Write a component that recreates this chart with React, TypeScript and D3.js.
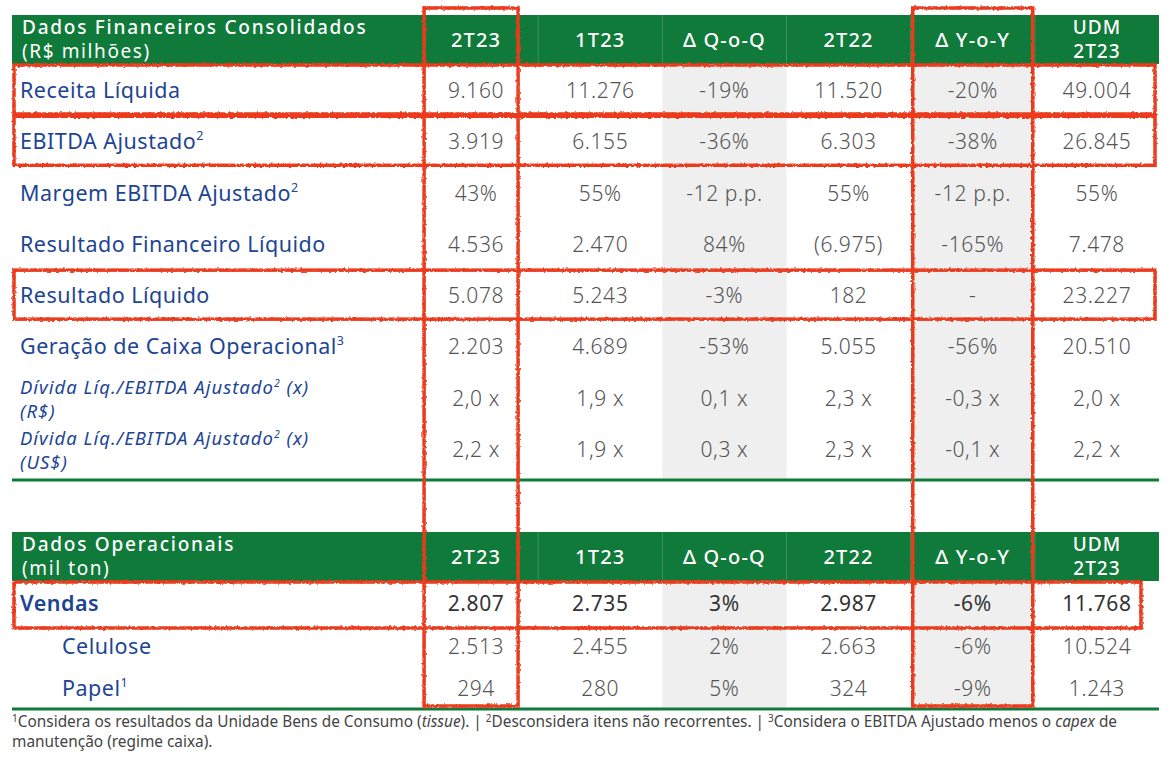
import React from "react";
import * as d3 from "d3";

const columns = ["2T23", "1T23", "Δ Q-o-Q", "2T22", "Δ Y-o-Y", "UDM 2T23"];
const deltaColumns = ["Δ Q-o-Q", "Δ Y-o-Y"];

const finTitle = ["Dados Financeiros Consolidados", "(R$ milhões)"];
const finLabels = [
  "Receita Líquida",
  "EBITDA Ajustado",
  "Margem EBITDA Ajustado",
  "Resultado Financeiro Líquido",
  "Resultado Líquido",
  "Geração de Caixa Operacional",
  "Dívida Líq./EBITDA Ajustado (R$)",
  "Dívida Líq./EBITDA Ajustado (US$)",
];
const finSup = ["", "2", "2", "", "", "3", "2", "2"];
const fin2T23 = ["9.160", "3.919", "43%", "4.536", "5.078", "2.203", "2,0 x", "2,2 x"];
const fin1T23 = ["11.276", "6.155", "55%", "2.470", "5.243", "4.689", "1,9 x", "1,9 x"];
const finQoQ = ["-19%", "-36%", "-12 p.p.", "84%", "-3%", "-53%", "0,1 x", "0,3 x"];
const fin2T22 = ["11.520", "6.303", "55%", "(6.975)", "182", "5.055", "2,3 x", "2,3 x"];
const finYoY = ["-20%", "-38%", "-12 p.p.", "-165%", "-", "-56%", "-0,3 x", "-0,1 x"];
const finUDM = ["49.004", "26.845", "55%", "7.478", "23.227", "20.510", "2,0 x", "2,2 x"];

const opTitle = ["Dados Operacionais", "(mil ton)"];
const opLabels = ["Vendas", "Celulose", "Papel"];
const opSup = ["", "", "1"];
const op2T23 = ["2.807", "2.513", "294"];
const op1T23 = ["2.735", "2.455", "280"];
const opQoQ = ["3%", "2%", "5%"];
const op2T22 = ["2.987", "2.663", "324"];
const opYoY = ["-6%", "-6%", "-9%"];
const opUDM = ["11.768", "10.524", "1.243"];

const highlightedFin = ["Receita Líquida", "EBITDA Ajustado", "Resultado Líquido"];
const highlightedOp = ["Vendas"];
const highlightedCols = ["2T23", "Δ Y-o-Y"];

const GREEN = "#0f7a3a";
const BLUE = "#1d4593";
const GREY_TXT = "#555";
const RED = "#ec3a1c";
const FONT = "'Noto Sans', 'Open Sans', sans-serif";

export default function App() {
  const W = 1174;
  const H = 768;
  const left = 12;
  const right = 1159;

  const x = d3.scaleBand<string>().domain(columns).range([414, right]).padding(0);
  const cx = (c: string) => (x(c) as number) + x.bandwidth() / 2;

  const yFin = d3.scalePoint<string>().domain(finLabels).range([91, 450]);
  const yOp = d3.scalePoint<string>().domain(opLabels).range([604, 689]);

  const finCols = [fin2T23, fin1T23, finQoQ, fin2T22, finYoY, finUDM];
  const opCols = [op2T23, op1T23, opQoQ, op2T22, opYoY, opUDM];

  const header1 = { top: 15, bottom: 64 };
  const finBottom = 480;
  const header2 = { top: 532, bottom: 581 };
  const opBottom = 709;

  const renderHeader = (top: number, bottom: number, title: string[]) => (
    <g>
      <rect x={left} y={top} width={right - left} height={bottom - top} fill={GREEN} />
      {columns.slice(1).map((c) => (
        <line key={c} x1={x(c)} x2={x(c)} y1={top} y2={bottom} stroke="#ffffff" strokeOpacity={0.18} strokeWidth={1} />
      ))}
      <text x={22} y={top + 19} fill="#fff" fontSize={19} letterSpacing={1.75} fontWeight={500}>{title[0]}</text>
      <text x={22} y={top + 43} fill="#fff" fontSize={19} letterSpacing={1.6} fontWeight={400}>{title[1]}</text>
      {columns.map((c) =>
        c === "UDM 2T23" ? (
          <text key={c} x={cx(c)} fill="#fff" fontSize={19} letterSpacing={1} fontWeight={500} textAnchor="middle">
            <tspan x={cx(c)} y={top + 19}>UDM</tspan>
            <tspan x={cx(c)} y={top + 43}>2T23</tspan>
          </text>
        ) : (
          <text key={c} x={cx(c)} y={top + 32} fill="#fff" fontSize={20} letterSpacing={1.2} fontWeight={500} textAnchor="middle">{c}</text>
        )
      )}
    </g>
  );

  const renderLabel = (label: string, sup: string, y: number, opts: { bold?: boolean; indent?: number }) => {
    const xx = 20 + (opts.indent || 0);
    if (label.startsWith("Dívida")) {
      const parts = label.split(" (");
      return (
        <g>
          <text x={xx} y={y - 5} fill={BLUE} fontSize={18.5} letterSpacing={1} fontStyle="italic">
            {parts[0]}
            <tspan fontSize={10.5} dy={-7}>{sup}</tspan>
            <tspan dy={7}> (x)</tspan>
          </text>
          <text x={xx} y={y + 19} fill={BLUE} fontSize={18.5} letterSpacing={1} fontStyle="italic">({parts[1]}</text>
        </g>
      );
    }
    return (
      <text x={xx} y={y + 7} fill={BLUE} fontSize={21.5} letterSpacing={0.5} fontWeight={opts.bold ? 600 : 400}>
        {label}
        {sup ? <tspan fontSize={12.5} dy={-9}>{sup}</tspan> : null}
      </text>
    );
  };

  return (
    <svg width={W} height={H} style={{ position: "absolute", left: 0, top: 0, background: "#fff" }} fontFamily={FONT}>
      <defs>
        <filter id="rough" x="-5%" y="-5%" width="110%" height="110%">
          <feTurbulence type="fractalNoise" baseFrequency="0.35" numOctaves={2} seed={3} result="n" />
          <feDisplacementMap in="SourceGraphic" in2="n" scale={3} />
        </filter>
      </defs>

      {/* grey delta columns */}
      {deltaColumns.map((c) => (
        <g key={c}>
          <rect x={x(c)} y={header1.bottom} width={x.bandwidth()} height={finBottom - header1.bottom} fill="#efefef" />
          <rect x={x(c)} y={header2.bottom} width={x.bandwidth()} height={opBottom - header2.bottom} fill="#efefef" />
        </g>
      ))}

      {renderHeader(header1.top, header1.bottom, finTitle)}
      {renderHeader(header2.top, header2.bottom, opTitle)}

      {/* financial rows */}
      {finLabels.map((l, i) => {
        const y = yFin(l) as number;
        return (
          <g key={l}>
            {renderLabel(l, finSup[i], y, {})}
            {columns.map((c, j) => (
              <text key={c} x={cx(c)} y={y + 7} fill={GREY_TXT} fontSize={21} letterSpacing={0.6} fontWeight={300} textAnchor="middle">
                {finCols[j][i]}
              </text>
            ))}
          </g>
        );
      })}
      <line x1={left} x2={right} y1={finBottom} y2={finBottom} stroke={GREEN} strokeWidth={3} />

      {/* operational rows */}
      {opLabels.map((l, i) => {
        const y = yOp(l) as number;
        const bold = i === 0;
        return (
          <g key={l}>
            {renderLabel(l, opSup[i], y, { bold, indent: bold ? 0 : 42 })}
            {columns.map((c, j) => (
              <text key={c} x={cx(c)} y={y + 7} fill={bold ? "#333" : GREY_TXT} fontSize={21} letterSpacing={0.6} fontWeight={bold ? 400 : 300} textAnchor="middle">
                {opCols[j][i]}
              </text>
            ))}
          </g>
        );
      })}
      <line x1={left} x2={right} y1={opBottom} y2={opBottom} stroke={GREEN} strokeWidth={3} />

      {/* footnote */}
      <text x={12} y={727} fill="#444" fontSize={15.4}>
        <tspan fontSize={10} dy={-5}>1</tspan>
        <tspan dy={5}>Considera os resultados da Unidade Bens de Consumo (</tspan>
        <tspan fontStyle="italic">tissue</tspan>
        <tspan>). | </tspan>
        <tspan fontSize={10} dy={-5}>2</tspan>
        <tspan dy={5}>Desconsidera itens não recorrentes. | </tspan>
        <tspan fontSize={10} dy={-5}>3</tspan>
        <tspan dy={5}>Considera o EBITDA Ajustado menos o </tspan>
        <tspan fontStyle="italic">capex</tspan>
        <tspan> de</tspan>
      </text>
      <text x={12} y={747} fill="#444" fontSize={15.4}>manutenção (regime caixa).</text>

      {/* red annotation boxes */}
      <g fill="none" stroke={RED} strokeWidth={3.5} filter="url(#rough)">
        {highlightedCols.map((c) => {
          const half = c === "2T23" ? 47 : 60;
          const off = c === "2T23" ? -5 : 0;
          return (
            <rect key={c} x={cx(c) + off - half} y={8} width={half * 2} height={698} />
          );
        })}
        {highlightedFin.map((l) => {
          const y = yFin(l) as number;
          return <rect key={l} x={14} y={y - 26} width={1141} height={49} />;
        })}
        {highlightedOp.map((l) => {
          const y = yOp(l) as number;
          return <rect key={l} x={14} y={y - 22} width={1127} height={46} />;
        })}
      </g>
    </svg>
  );
}
